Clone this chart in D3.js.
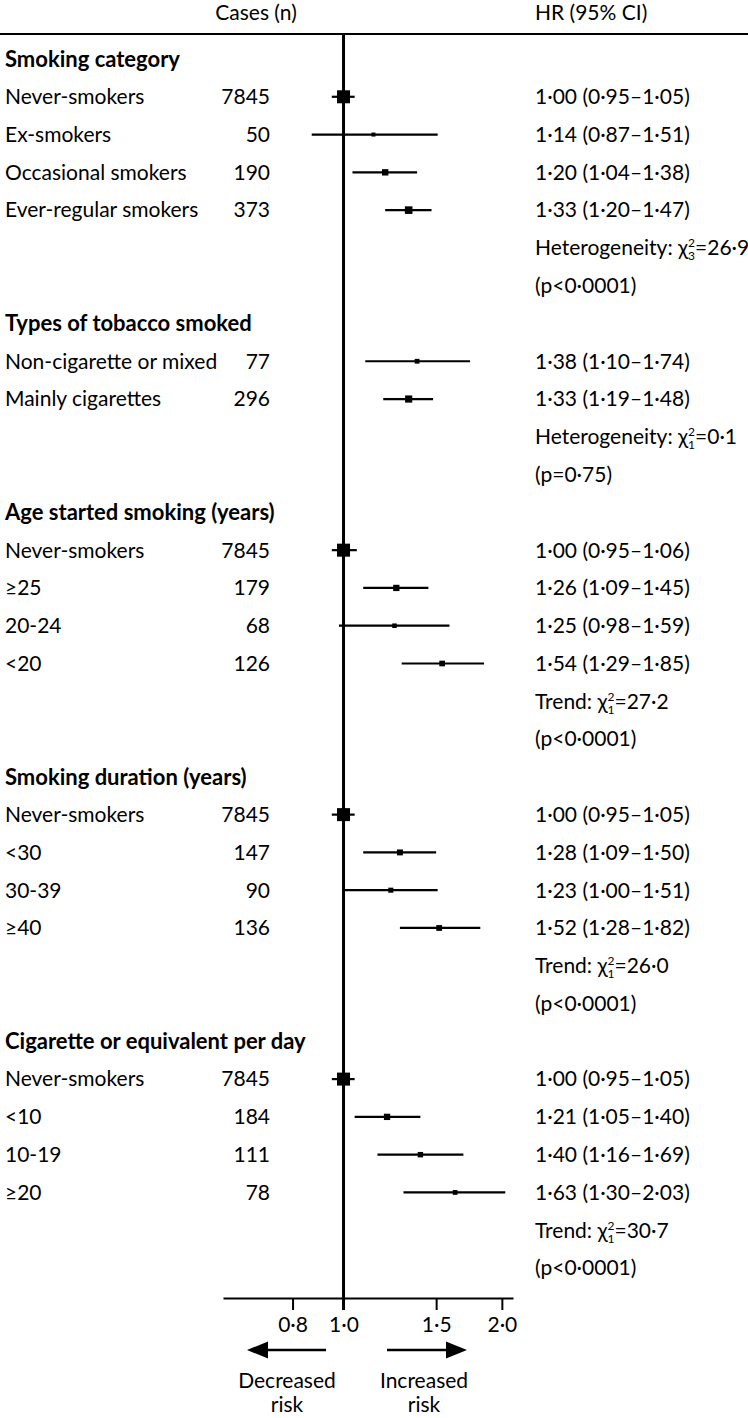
<!DOCTYPE html>
<html lang="en">
<head>
<meta charset="UTF-8">
<title>Smoking and risk: hazard ratios</title>
<style>
  body { margin: 0; background: #fff; }
  svg text { font-family: Lato, "Open Sans", sans-serif; fill: #000; }
</style>
<script src="https://d3js.org/d3.v7.min.js"></script>
</head>
<body>
<div id="chart"></div>
<script>
// data
const groupNames = ["Smoking category", "Types of tobacco smoked", "Age started smoking (years)",
                    "Smoking duration (years)", "Cigarette or equivalent per day"];
const groupLabels = [
  ["Never-smokers", "Ex-smokers", "Occasional smokers", "Ever-regular smokers"],
  ["Non-cigarette or mixed", "Mainly cigarettes"],
  ["Never-smokers", "≥25", "20-24", "<20"],
  ["Never-smokers", "<30", "30-39", "≥40"],
  ["Never-smokers", "<10", "10-19", "≥20"]
];
const groupCases = [[7845, 50, 190, 373], [77, 296], [7845, 179, 68, 126], [7845, 147, 90, 136], [7845, 184, 111, 78]];
const groupHR = [[1.00, 1.14, 1.20, 1.33], [1.38, 1.33], [1.00, 1.26, 1.25, 1.54], [1.00, 1.28, 1.23, 1.52], [1.00, 1.21, 1.40, 1.63]];
const groupLo = [[0.95, 0.87, 1.04, 1.20], [1.10, 1.19], [0.95, 1.09, 0.98, 1.29], [0.95, 1.09, 1.00, 1.28], [0.95, 1.05, 1.16, 1.30]];
const groupHi = [[1.05, 1.51, 1.38, 1.47], [1.74, 1.48], [1.06, 1.45, 1.59, 1.85], [1.05, 1.50, 1.51, 1.82], [1.05, 1.40, 1.69, 2.03]];
const testNames = ["Heterogeneity", "Heterogeneity", "Trend", "Trend", "Trend"];
const testDf = [3, 1, 1, 1, 1];
const testChi = ["26·9", "0·1", "27·2", "26·0", "30·7"];
const testP = ["p<0·0001", "p=0·75", "p<0·0001", "p<0·0001", "p<0·0001"];
const tickValues = [0.8, 1.0, 1.5, 2.0];

const width = 748, height = 1418;
const fs = 21;

const svg = d3.select("#chart").append("svg")
    .attr("width", width)
    .attr("height", height);

// flatten into one list of rows
const rows = [];
groupNames.forEach((g, i) => {
  rows.push({ type: "head", text: g });
  groupLabels[i].forEach((lab, j) => rows.push({
    type: "item", text: lab, n: groupCases[i][j],
    hr: groupHR[i][j], lo: groupLo[i][j], hi: groupHi[i][j]
  }));
  rows.push({ type: "test", g: i });
  rows.push({ type: "p", g: i });
});

const y = d3.scalePoint().domain(d3.range(rows.length)).range([59, 1268]);
const x = d3.scaleLog().domain([0.59, 2.1]).range([223, 513]);
const size = d3.scaleLog().domain([50, 7845]).range([4, 13]);
const dot = v => d3.format(".2f")(v).replace(".", "·");

const axisY = 1298;

// header
svg.append("text").attr("x", 256).attr("y", 20).attr("text-anchor", "middle")
  .attr("font-size", fs).text("Cases (n)");
svg.append("text").attr("x", 535).attr("y", 20)
  .attr("font-size", fs).text("HR (95% CI)");
svg.append("line").attr("x1", 0).attr("x2", width).attr("y1", 34).attr("y2", 34)
  .attr("stroke", "#000").attr("stroke-width", 2);

// reference line at HR = 1
svg.append("line").attr("x1", x(1)).attr("x2", x(1)).attr("y1", 34).attr("y2", axisY + 12)
  .attr("stroke", "#000").attr("stroke-width", 3);

// axis
const axis = svg.append("g").attr("transform", `translate(0,${axisY})`)
  .call(d3.axisBottom(x).tickValues(tickValues).tickSize(12).tickSizeOuter(0).tickPadding(7)
    .tickFormat(d => d3.format(".1f")(d).replace(".", "·")));
axis.select(".domain").attr("stroke-width", 2);
axis.selectAll(".tick line").attr("stroke-width", 2);
axis.selectAll(".tick text").attr("font-size", fs).attr("font-family", null);

// row text
const rowG = svg.append("g");
rows.forEach((r, i) => {
  const yy = y(i);
  if (r.type === "head") {
    rowG.append("text").attr("x", 5).attr("y", yy).attr("dy", "0.35em")
      .attr("font-size", 22).attr("font-weight", "bold").text(r.text);
  } else if (r.type === "item") {
    rowG.append("text").attr("x", 5).attr("y", yy).attr("dy", "0.35em")
      .attr("font-size", fs).text(r.text);
    rowG.append("text").attr("x", 270).attr("y", yy).attr("dy", "0.35em")
      .attr("text-anchor", "end").attr("font-size", fs).text(r.n);
    rowG.append("text").attr("x", 535).attr("y", yy).attr("dy", "0.35em")
      .attr("font-size", fs).text(`${dot(r.hr)} (${dot(r.lo)}–${dot(r.hi)})`);
  } else if (r.type === "test") {
    const t = rowG.append("text").attr("x", 535).attr("y", yy).attr("dy", "0.35em")
      .attr("font-size", fs);
    t.append("tspan").text(testNames[r.g] + ": χ");
    t.append("tspan").attr("font-size", 12).attr("dy", -8).text("2");
    t.append("tspan").attr("font-size", 12).attr("dx", -7).attr("dy", 13).text(testDf[r.g]);
    t.append("tspan").attr("dy", -5).text("=" + testChi[r.g]);
  } else {
    rowG.append("text").attr("x", 535).attr("y", yy).attr("dy", "0.35em")
      .attr("font-size", fs).text(`(${testP[r.g]})`);
  }
});

// confidence intervals and point estimates
const items = rows.map((r, i) => ({ ...r, i })).filter(r => r.type === "item");
svg.append("g").selectAll("line").data(items).join("line")
  .attr("x1", d => x(d.lo)).attr("x2", d => x(d.hi))
  .attr("y1", d => y(d.i)).attr("y2", d => y(d.i))
  .attr("stroke", "#000").attr("stroke-width", 2.2);
svg.append("g").selectAll("rect").data(items).join("rect")
  .attr("x", d => x(d.hr) - size(d.n) / 2).attr("y", d => y(d.i) - size(d.n) / 2)
  .attr("width", d => size(d.n)).attr("height", d => size(d.n))
  .attr("fill", "#000");

// direction arrows
const arrowY = 1350;
const arrows = [
  { from: 326, to: 247, label: ["Decreased", "risk"], cx: 287 },
  { from: 387, to: 467, label: ["Increased", "risk"], cx: 424 }
];
arrows.forEach(a => {
  const dir = a.to > a.from ? 1 : -1;
  svg.append("line").attr("x1", a.from).attr("x2", a.to - dir * 10)
    .attr("y1", arrowY).attr("y2", arrowY).attr("stroke", "#000").attr("stroke-width", 2.5);
  svg.append("path")
    .attr("d", `M${a.to},${arrowY} L${a.to - dir * 21},${arrowY - 8.5} L${a.to - dir * 21},${arrowY + 8.5} Z`)
    .attr("fill", "#000");
  a.label.forEach((s, k) => {
    svg.append("text").attr("x", a.cx).attr("y", 1388 + k * 24).attr("text-anchor", "middle")
      .attr("font-size", fs).text(s);
  });
});
</script>
</body>
</html>
